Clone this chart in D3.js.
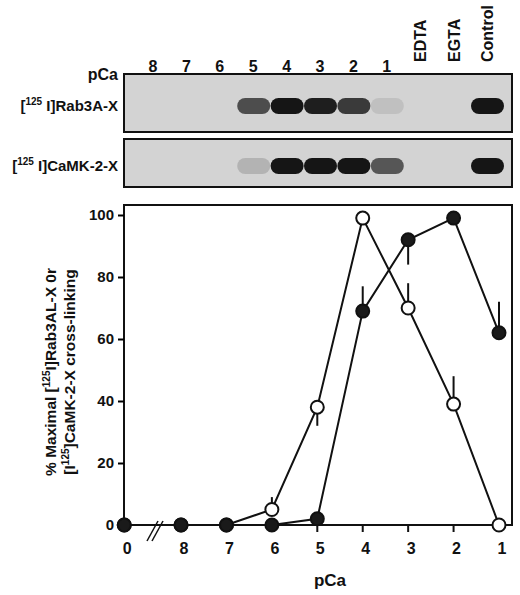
<!DOCTYPE html>
<html><head><meta charset="utf-8">
<script src="https://cdn.jsdelivr.net/npm/d3@7"></script>
<style>
body{margin:0;background:#fff}
text{font-family:"Liberation Sans",Arial,sans-serif;font-weight:bold;fill:#111}
</style></head>
<body><div class="chart"></div>
<script>
// blot lanes
var lanes = ["8", "7", "6", "5", "4", "3", "2", "1", "EDTA", "EGTA", "Control"];
var rab3aBand = [0, 0, 0, 0.7, 1, 0.95, 0.8, 0.08, 0, 0, 1];
var camkBand = [0, 0, 0, 0.15, 1, 1, 1, 0.65, 0, 0, 1];

// line chart
var pcaLabels = ["0", "8", "7", "6", "5", "4", "3", "2", "1"];
var pcaPos = [9.25, 8, 7, 6, 5, 4, 3, 2, 1];
var rab3a = [0, 0, 0, 5, 38, 99, 70, 39, 0];
var rab3aErr = [0, 0, 0, 4, -6, 0, 8, 9, 0];
var camk = [0, 0, 0, 0, 2, 69, 92, 99, 62];
var camkErr = [0, 0, 0, 0, 0, 8, -8, 0, 10];
var yTicks = [0, 20, 40, 60, 80, 100];

var w = 520, h = 595;
var svg = d3.select(".chart").append("svg").attr("width", w).attr("height", h);

// ---- blots ----
var laneX = d3.scalePoint().domain(lanes).range([153, 487]);
var rows = [
    {label: "Rab3A-X", vals: rab3aBand, y0: 74, y1: 132},
    {label: "CaMK-2-X", vals: camkBand, y0: 139, y1: 187}
];

svg.append("text").attr("x", 118).attr("y", 80).attr("text-anchor", "end")
    .style("font-size", "16px").text("pCa");

lanes.forEach(function (l) {
    if (l.length > 1) {
        svg.append("text")
            .attr("transform", "translate(" + (laneX(l) + 6) + ",62) rotate(-90)")
            .style("font-size", "16px").text(l);
    } else {
        svg.append("text").attr("x", laneX(l)).attr("y", 72)
            .attr("text-anchor", "middle").style("font-size", "16px").text(l);
    }
});

var shade = d3.scaleLinear().domain([0, 1]).range(["#cfcfcf", "#151515"]);
rows.forEach(function (r) {
    svg.append("rect").attr("x", 124).attr("y", r.y0).attr("width", 388).attr("height", r.y1 - r.y0)
        .attr("fill", "#d3d3d3").attr("stroke", "#111").attr("stroke-width", 2);
    var cy = (r.y0 + r.y1) / 2 + 3;
    var bands = r.vals.map(function (v, i) { return {lane: lanes[i], v: v}; })
        .filter(function (d) { return d.v > 0; });
    svg.selectAll(null).data(bands).enter().append("rect")
        .attr("x", function (d) { return laneX(d.lane) - 16; })
        .attr("y", cy - 8).attr("width", 33).attr("height", 16)
        .attr("rx", 8).attr("fill", function (d) { return shade(d.v); });
    var t = svg.append("text").attr("x", 118).attr("y", cy + 5).attr("text-anchor", "end")
        .style("font-size", "15px");
    t.append("tspan").text("[");
    t.append("tspan").attr("dy", -6).style("font-size", "10px").text("125");
    t.append("tspan").attr("dy", 6).text(" I]" + r.label);
});

// ---- line chart ----
var xScale = d3.scaleLinear().domain([9, 1]).range([135.6, 499]);
var yScale = d3.scaleLinear().domain([0, 100]).range([525, 215]);

svg.append("rect").attr("x", 124).attr("y", 205).attr("width", 388).attr("height", 320)
    .attr("fill", "none").attr("stroke", "#111").attr("stroke-width", 2);

var yAxis = d3.axisLeft(yScale).tickValues(yTicks).tickSize(6).tickPadding(4);
svg.append("g").attr("transform", "translate(124,0)").call(yAxis)
    .call(function (g) { g.select(".domain").remove(); })
    .selectAll("text").style("font-size", "15px");
svg.selectAll(".tick line").attr("stroke-width", 2);

// x axis ticks below
svg.selectAll(null).data(pcaPos.slice(1)).enter().append("line")
    .attr("x1", function (d) { return xScale(d); }).attr("x2", function (d) { return xScale(d); })
    .attr("y1", 525).attr("y2", 532).attr("stroke", "#111").attr("stroke-width", 2);
svg.selectAll(null).data(pcaPos).enter().append("text")
    .attr("x", function (d) { return xScale(d) + 3; }).attr("y", 554)
    .attr("text-anchor", "middle").style("font-size", "16px")
    .text(function (d, i) { return pcaLabels[i]; });
// axis break
[0, 5].forEach(function (o) {
    svg.append("line").attr("x1", 147 + o).attr("y1", 541).attr("x2", 158 + o).attr("y2", 521)
        .attr("stroke", "#111").attr("stroke-width", 1.5);
});
svg.append("text").attr("x", 330).attr("y", 586).attr("text-anchor", "middle")
    .style("font-size", "17px").text("pCa");

// y label
var yl = svg.append("g").attr("transform", "translate(0,372) rotate(-90)");
var t1 = yl.append("text").attr("x", 0).attr("y", 56).attr("text-anchor", "middle").style("font-size", "15.5px");
t1.append("tspan").text("% Maximal [");
t1.append("tspan").attr("dy", -6).style("font-size", "10px").text("125");
t1.append("tspan").attr("dy", 6).text("I]Rab3AL-X 0r");
var t2 = yl.append("text").attr("x", 0).attr("y", 75).attr("text-anchor", "middle").style("font-size", "15.5px");
t2.append("tspan").text("[I");
t2.append("tspan").attr("dy", -6).style("font-size", "10px").text("125");
t2.append("tspan").attr("dy", 6).text("]CaMK-2-X cross-linking");

var line = d3.line().x(function (d) { return xScale(d.x); }).y(function (d) { return yScale(d.y); });
function series(vals, errs, filled) {
    var pts = vals.map(function (v, i) { return {x: pcaPos[i], y: v, e: errs[i]}; });
    svg.append("path").datum(pts.slice(1)).attr("d", line)
        .attr("fill", "none").attr("stroke", "#111").attr("stroke-width", 2);
    svg.selectAll(null).data(pts.filter(function (d) { return d.e !== 0; })).enter().append("line")
        .attr("x1", function (d) { return xScale(d.x); }).attr("x2", function (d) { return xScale(d.x); })
        .attr("y1", function (d) { return yScale(d.y); }).attr("y2", function (d) { return yScale(d.y + d.e); })
        .attr("stroke", "#111").attr("stroke-width", 2);
    svg.selectAll(null).data(pts).enter().append("circle")
        .attr("cx", function (d) { return xScale(d.x); }).attr("cy", function (d) { return yScale(d.y); })
        .attr("r", 6.5).attr("fill", filled ? "#1a1a1a" : "#fff")
        .attr("stroke", "#111").attr("stroke-width", 2);
}
series(rab3a, rab3aErr, false);
series(camk, camkErr, true);
</script></body></html>
